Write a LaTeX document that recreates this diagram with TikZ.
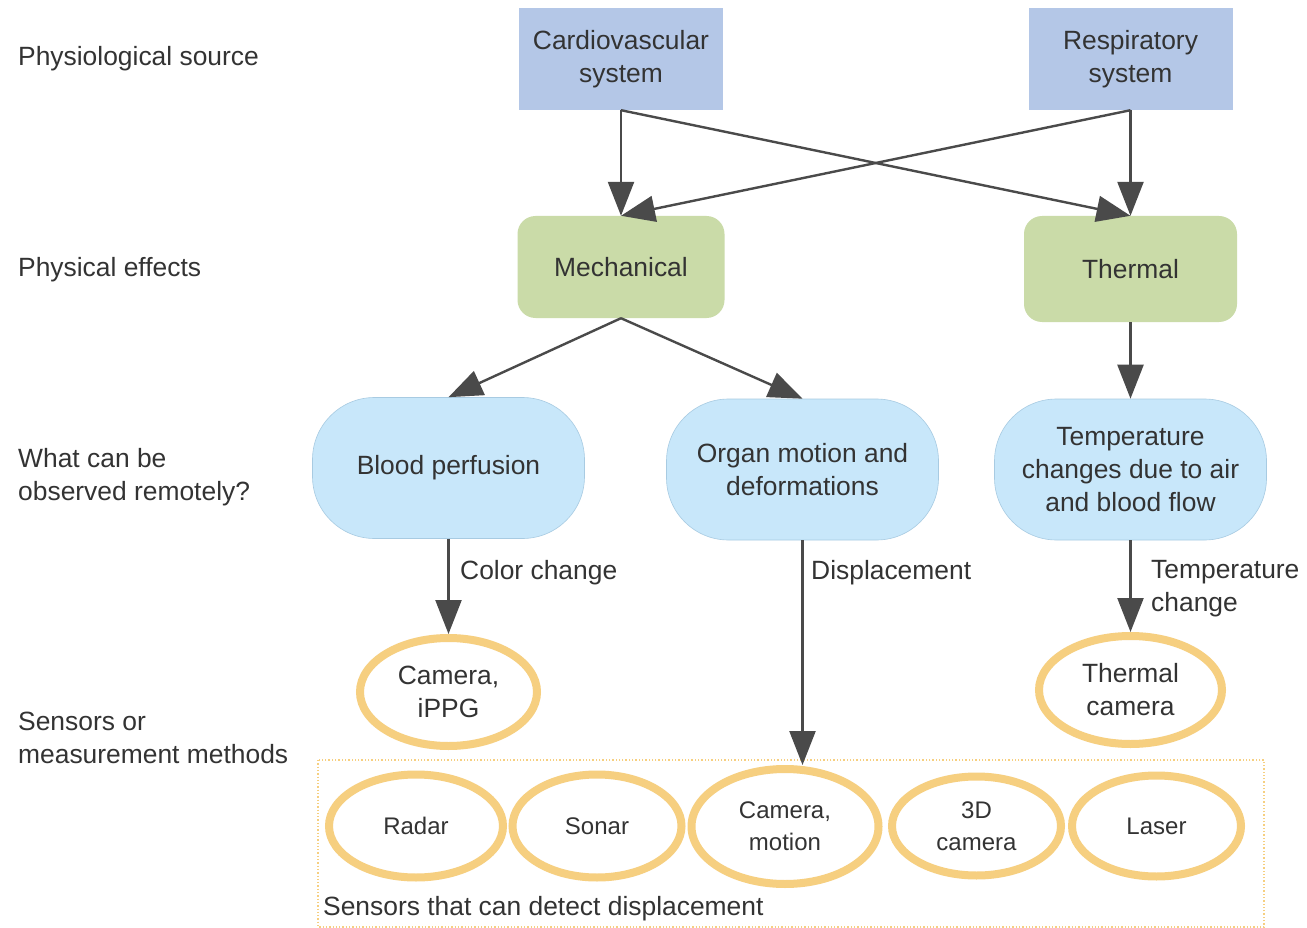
\documentclass[tikz,border=0pt]{standalone}
\usepackage{fontspec}
\setmainfont{Liberation Sans}
\usetikzlibrary{arrows.meta,shapes.geometric}
\definecolor{srcblue}{HTML}{B4C7E7}
\definecolor{effgreen}{HTML}{CADBA8}
\definecolor{obsblue}{HTML}{C8E7FA}
\definecolor{obsedge}{HTML}{A8CBE2}
\definecolor{sensorange}{HTML}{F6CF80}
\definecolor{arrowgray}{HTML}{4A4A4A}
\definecolor{txt}{HTML}{333333}
\begin{document}
\begin{tikzpicture}[x=1pt,y=-1pt,
  every node/.style={text=txt, font=\fontsize{26.4}{33}\selectfont, align=center, inner sep=0pt},
  srcbox/.style={fill=srcblue, minimum width=204pt, minimum height=102pt},
  effbox/.style={fill=effgreen, rounded corners=18pt, minimum width=207pt, minimum height=102pt},
  obsbox/.style={fill=obsblue, draw=obsedge, line width=0.6pt, rounded corners=62pt, minimum width=272pt, minimum height=141pt},
  sensor/.style={ellipse, draw=sensorange, line width=8pt, fill=white},
  small/.style={font=\fontsize{24}{32}\selectfont},
  flow/.style={draw=arrowgray, line width=2.4pt, -{Triangle[length=34pt,width=26pt]}},
  lbl/.style={anchor=west, align=left},
]
\useasboundingbox (0,0) rectangle (1307,928);
\fill[white] (0,0) rectangle (1307,928);

% row captions
\node[lbl] (capsrc) at (18,58.5) {Physiological source};
\node[lbl] (capeff) at (18,269.5) {Physical effects};
\node[lbl] (capobs) at (18,477) {What can be\\observed remotely?};
\node[lbl] (capsen) at (18,738) {Sensors or\\measurement methods};

% group of displacement sensors
\draw[sensorange, line width=1.3pt, dotted] (318,760) rectangle (1264,927);
\node[lbl] (grouplbl) at (323,909) {Sensors that can detect displacement};

% physiological sources
\node[srcbox] (card) at (621,59) {Cardiovascular\\system};
\node[srcbox] (resp) at (1130.5,59) {Respiratory\\system};

% physical effects
\node[effbox] (mech) at (621,267) {Mechanical};
\node[effbox, minimum width=213pt, minimum height=106pt] (therm) at (1130.5,269) {Thermal};

% observable quantities
\node[obsbox] (blood) at (448.5,468) {Blood perfusion};
\node[obsbox] (organ) at (802.5,469.5) {Organ motion and\\deformations};
\node[obsbox] (temp) at (1130.5,469.5) {Temperature\\changes due to air\\and blood flow};

% sensors
\node[sensor, minimum width=177pt, minimum height=108pt] (ippg) at (448.5,692) {Camera,\\iPPG};
\node[sensor, minimum width=183pt, minimum height=108pt] (thcam) at (1130.5,690) {Thermal\\camera};
\node[sensor, small, minimum width=174pt, minimum height=103pt] (radar) at (416,826) {Radar};
\node[sensor, small, minimum width=169pt, minimum height=103pt] (sonar) at (597,826) {Sonar};
\node[sensor, small, minimum width=187pt, minimum height=115pt] (cammot) at (785,826.5) {Camera,\\motion};
\node[sensor, small, minimum width=169pt, minimum height=99pt] (cam3d) at (976.5,826) {3D\\camera};
\node[sensor, small, minimum width=169pt, minimum height=101pt] (laser) at (1156.5,826) {Laser};

% connectors
\draw[flow] (card.south) -- (mech.north);
\draw[flow] (card.south) -- (therm.north);
\draw[flow] (resp.south) -- (mech.north);
\draw[flow] (resp.south) -- (therm.north);
\draw[flow] (mech.south) -- (blood.north);
\draw[flow] (mech.south) -- (organ.north);
\draw[flow] (therm.south) -- (temp.north);
\draw[flow] (blood.south) -- (ippg.north);
\draw[flow] (organ.south) -- (organ.south |- cammot.north);
\draw[flow] (temp.south) -- (thcam.north);

% connector labels
\node[lbl] (lblcolor) at (460,572.5) {Color change};
\node[lbl] (lbldisp) at (811,572.5) {Displacement};
\node[lbl] (lbltemp) at (1151,589) {Temperature\\change};
\end{tikzpicture}
\end{document}
